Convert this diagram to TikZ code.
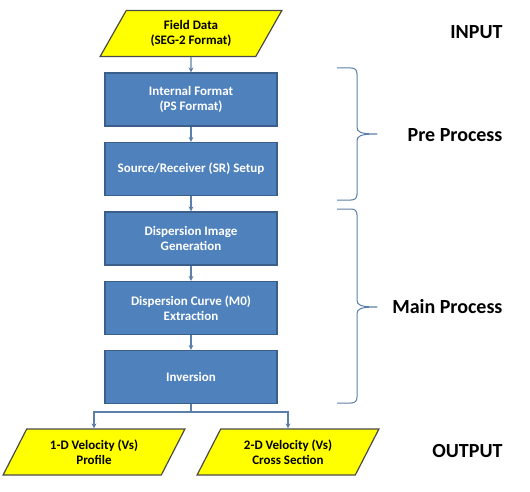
\documentclass[tikz,border=0pt]{standalone}
\usepackage{fontspec}
\setmainfont{Carlito}
\usetikzlibrary{shapes.geometric,arrows.meta}
\definecolor{boxblue}{HTML}{4F81BD}
\definecolor{boxline}{HTML}{3A5F8B}
\definecolor{datayellow}{HTML}{FFFF00}
\definecolor{dataline}{HTML}{4A4A4A}
\definecolor{linkblue}{HTML}{5B7FA8}
% curly brace: top y, tip y, bottom y
\newcommand{\groupbrace}[3]{%
  \draw[bracestyle] (337,#1) -- (351,#1) .. controls (355,#1) and (357,{#1+2}) .. (357,{#1+6})
    -- (357,{#2-7}) .. controls (357,{#2-2}) and (360,#2) .. (377,#2)
    .. controls (360,#2) and (357,{#2+2}) .. (357,{#2+7})
    -- (357,{#3-6}) .. controls (357,{#3-2}) and (355,#3) .. (351,#3) -- (337,#3);}
\begin{document}
\begin{tikzpicture}[x=1pt,y=-1pt,
    stepbox/.style={draw=boxline,line width=1.2pt,fill=boxblue,text=white,
      minimum width=172,minimum height=53,inner sep=0pt,align=center,
      font=\fontsize{13}{15}\selectfont\bfseries},
    databox/.style={trapezium,trapezium left angle=58,trapezium right angle=122,
      trapezium stretches=true,draw=dataline,line width=1.2pt,fill=datayellow,
      minimum width=182,minimum height=46,inner sep=0pt,align=center,
      font=\fontsize{13}{15}\selectfont\bfseries},
    link/.style={linkblue,line width=1.3pt,-{Stealth[length=5pt,width=5pt]}},
    bracestyle/.style={linkblue,line width=1pt,line join=round},
    tag/.style={anchor=east,font=\fontsize{20}{22}\selectfont\bfseries}]
    \useasboundingbox (0,0) rectangle (530,492);
    % flow chart
    \node[databox] (field) at (191,33.5) {Field Data\\(SEG-2 Format)};
    \node[stepbox] (internal) at (191,99.5) {Internal Format\\(PS Format)};
    \node[stepbox] (setup) at (191,169) {Source/Receiver (SR) Setup};
    \node[stepbox] (image) at (191,238.5) {Dispersion Image\\Generation};
    \node[stepbox] (curve) at (191,308) {Dispersion Curve (M0)\\Extraction};
    \node[stepbox] (inversion) at (191,377) {Inversion};
    \node[databox] (profile) at (94,452) {1-D Velocity (Vs)\\Profile};
    \node[databox] (section) at (288,452) {2-D Velocity (Vs)\\Cross Section};
    \draw[link] (field) -- (internal);
    \draw[link] (internal) -- (setup);
    \draw[link] (setup) -- (image);
    \draw[link] (image) -- (curve);
    \draw[link] (curve) -- (inversion);
    \coordinate (split) at (191,412);
    \draw[linkblue,line width=1.3pt] (inversion) -- (split);
    \draw[link] (split) -| (profile.north);
    \draw[link] (split) -| (section.north);
    % braces and stage names
    \groupbrace{68}{134}{200}
    \groupbrace{209}{307}{403}
    \node[tag] (input) at (506,32) {INPUT};
    \node[tag] (pre) at (506,135) {Pre Process};
    \node[tag] (main) at (506,307) {Main Process};
    \node[tag] (output) at (506,451) {OUTPUT};
\end{tikzpicture}
\end{document}
